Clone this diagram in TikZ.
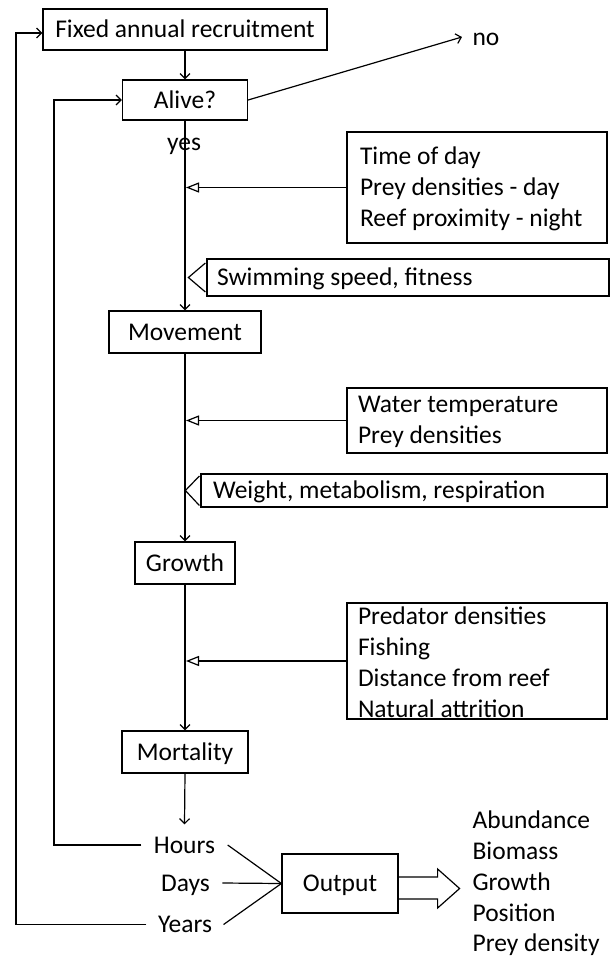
\documentclass[tikz,border=0pt]{standalone}
\usepackage{fontspec}
\setmainfont{Carlito}
\usetikzlibrary{arrows.meta,calc}
\begin{document}
\begin{tikzpicture}[x=1pt,y=-1pt, line width=1.2pt,
  every node/.style={font=\fontsize{25.5}{31}\selectfont},
  box/.style={draw, inner sep=0pt, text height=16.4pt, text depth=0pt},
  frame/.style={draw, inner sep=0pt},
  txt/.style={align=left, inner sep=0pt, anchor=west},
  line1/.style={inner sep=0pt, anchor=west, text height=16.4pt, text depth=0pt},
  lbl/.style={inner xsep=12pt, inner ysep=0pt, text height=16.4pt, text depth=0pt},
  arr/.style={-{Straight Barb[length=5pt,width=10pt]}},
  tri/.style={-{Triangle[open,length=13pt,width=10pt]}}]
\useasboundingbox (0,0) rectangle (612,959);

% main boxes
\node[box, minimum width=284pt, minimum height=41pt] (fixed) at (185,29.5) {Fixed annual recruitment};
\node[box, minimum width=125pt, minimum height=40pt] (alive) at (185,100) {Alive?};
\node[lbl, inner xsep=10pt] (no) at (486,37) {no};
\node[inner sep=0pt, text height=12pt, text depth=0pt] (yes) at (184,144) {yes};
\node[box, minimum width=152pt, minimum height=42pt] (move) at (185,332) {Movement};
\node[box, minimum width=100pt, minimum height=42pt] (growth) at (185,563) {Growth};
\node[box, minimum width=126pt, minimum height=42pt] (mort) at (185,752) {Mortality};

% influence boxes
\node[frame, minimum width=260pt, minimum height=111pt] (time) at (477,187.5) {};
\node[txt] (timetxt) at ($(time.west)+(13,1.5)$) {Time of day\\Prey densities - day\\Reef proximity - night};
\node[frame, minimum width=402pt, minimum height=37pt] (swim) at (408,277.5) {};
\node[line1] (swimtxt) at ($(swim.west)+(10,0)$) {Swimming speed, fitness};
\node[frame, minimum width=260pt, minimum height=65pt] (water) at (477,420.5) {};
\node[txt] (watertxt) at ($(water.west)+(11,1)$) {Water temperature\\Prey densities};
\node[frame, minimum width=406pt, minimum height=33pt] (weight) at (404,490.5) {};
\node[line1] (weighttxt) at ($(weight.west)+(12,0)$) {Weight, metabolism, respiration};
\node[frame, minimum width=260pt, minimum height=116pt] (pred) at (477,661) {};
\node[txt] (predtxt) at ($(pred.west)+(11,1.5)$) {Predator densities\\Fishing\\Distance from reef\\Natural attrition};

% time steps and output
\node[lbl, inner ysep=11.8pt] (hours) at (184.5,845) {Hours};
\node[lbl] (days) at (185.5,883) {Days};
\node[lbl, inner xsep=11pt] (years) at (185,924.5) {Years};
\node[box, minimum width=116pt, minimum height=59pt] (out) at (340,883.5) {Output};
\node[txt, font=\fontsize{25.5}{30.7}\selectfont] (res) at (472,883.5) {Abundance\\Biomass\\Growth\\Position\\Prey density};

% main flow
\draw[arr] (fixed.south) -- (alive.north);
\draw[arr] (alive.east) -- (no.west);
\draw[arr] (alive.south) -- (move.north);
\draw[arr] (move.south) -- (growth.north);
\draw[arr] (growth.south) -- (mort.north);
\draw[arr] (mort.south) -- (hours.north);

% influences
\coordinate (c1) at (186,187.5);
\coordinate (c2) at (186,420.5);
\coordinate (c3) at (186,661);
\draw[tri] (time.west) -- (c1);
\draw[tri] (water.west) -- (c2);
\draw[tri] (pred.west) -- (c3);
\draw ($(swim.west)+(-1,-14.5)$) -- ++(-17,14.5) -- ++(17,14.5);
\draw ($(weight.west)+(-1,-14.5)$) -- ++(-14,14.5) -- ++(14,15);

% loops
\draw[arr] (hours.west) -- (54,845) |- (alive.west);
\draw[arr] (years.west) -- (16,924.5) |- ($(fixed.west)+(0,3.5)$);

% output
\draw (hours.east) -- (out.west);
\draw (days.east) -- (out.west);
\draw (years.east) -- (out.west);
\draw ($(out.east)+(0,-6.5)$) -- ($(out.east)+(39,-6.5)$) -- ($(out.east)+(39,-14.5)$)
  -- ($(out.east)+(61,5)$) -- ($(out.east)+(39,24.5)$) -- ($(out.east)+(39,15.5)$)
  -- ($(out.east)+(0,15.5)$);
\end{tikzpicture}
\end{document}
